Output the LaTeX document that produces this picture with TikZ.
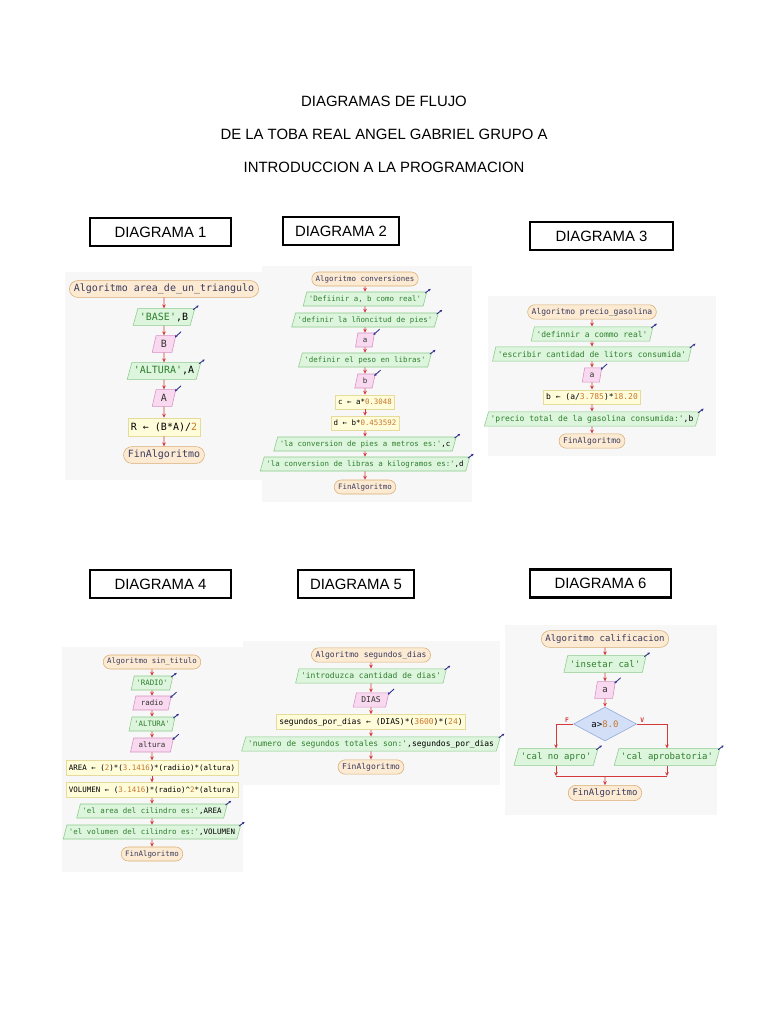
\documentclass[tikz,border=0pt]{standalone}
\usepackage{fontspec}
\usepackage{tikz}
\usetikzlibrary{arrows.meta,shapes.geometric,shapes.misc,positioning}

\newfontfamily\titulo{Liberation Sans}
\newfontfamily\flujo{DejaVu Sans Mono}

\definecolor{termF}{HTML}{FCEBD2}
\definecolor{termB}{HTML}{D9AC74}
\definecolor{outF}{HTML}{DCF5DC}
\definecolor{outB}{HTML}{8CCB8C}
\definecolor{inF}{HTML}{F9D9EF}
\definecolor{inB}{HTML}{D890C4}
\definecolor{asgF}{HTML}{FFFCDA}
\definecolor{asgB}{HTML}{E6DB9A}
\definecolor{decF}{HTML}{D3DFF7}
\definecolor{decB}{HTML}{8FA6D8}
\definecolor{flechaC}{HTML}{D43A3A}
\definecolor{iconC}{HTML}{2B2B8A}
\definecolor{kwC}{HTML}{3A3A60}
\definecolor{strC}{HTML}{2F7F2F}
\definecolor{numC}{HTML}{C8782A}

\newcommand{\cad}[1]{\textcolor{strC}{#1}}
\newcommand{\nro}[1]{\textcolor{numC}{#1}}

\begin{document}
\begin{tikzpicture}[
    x=0.025cm, y=-0.025cm,
    panel/.style={fill=black!3, draw=none},
    caja/.style={draw, line width=1.2pt, minimum height=0.7cm, font=\titulo\fontsize{10.6}{12}\selectfont},
    encab/.style={font=\titulo\fontsize{10.6}{12}\selectfont},
    term/.style={rounded rectangle, draw=termB, fill=termF, text=kwC, inner xsep=2pt, inner ysep=0pt},
    salida/.style={trapezium, trapezium left angle=62, trapezium right angle=118, trapezium stretches body, draw=outB, fill=outF, inner xsep=1.5pt, inner ysep=0pt,
        append after command={([shift={(-1.5pt,-1pt)}]\tikzlastnode.top right corner) edge[icono] ++(4pt,3pt)}},
    entrada/.style={trapezium, trapezium left angle=62, trapezium right angle=118, trapezium stretches body, draw=inB, fill=inF, text=black!80, inner xsep=3.5pt, inner ysep=0pt,
        append after command={([shift={(3.5pt,2.5pt)}]\tikzlastnode.top right corner) edge[icono] ([shift={(-1pt,-1.5pt)}]\tikzlastnode.top right corner)}},
    asig/.style={rectangle, draw=asgB, fill=asgF, inner xsep=2pt, inner ysep=0pt},
    decis/.style={diamond, draw=decB, fill=decF, inner sep=0pt, minimum width=1.58cm, minimum height=0.7cm},
    flab/.style={text=flechaC, font=\flujo\bfseries\fontsize{4.5}{5}\selectfont, inner sep=1pt},
    arr/.style={draw=flechaC, line width=0.5pt, -{Stealth[length=2.8pt,width=2.6pt]}},
    icono/.style={draw=iconC, line width=0.6pt, -{Stealth[length=1.8pt,width=1.8pt]}}
]
\fill[white] (0,0) rectangle (768,1024);
\useasboundingbox (0,0) rectangle (768,1024);

% titulo
\node[encab] (t1) at (384,101) {DIAGRAMAS DE FLUJO};
\node[encab] (t2) at (384,134) {DE LA TOBA REAL ANGEL GABRIEL GRUPO A};
\node[encab] (t3) at (384,167) {INTRODUCCION A LA PROGRAMACION};

\node[caja, minimum width=3.525cm] (c1) at (160.5,232) {DIAGRAMA 1};
\node[caja, minimum width=2.9cm] (c2) at (341,231) {DIAGRAMA 2};
\node[caja, minimum width=3.575cm, line width=1.5pt] (c3) at (601.5,236) {DIAGRAMA 3};
\node[caja, minimum width=3.525cm] (c4) at (160.5,584) {DIAGRAMA 4};
\node[caja, minimum width=2.9cm] (c5) at (356,584) {DIAGRAMA 5};
\node[caja, minimum width=3.525cm, line width=1.5pt] (c6) at (600.5,583.5) {DIAGRAMA 6};

% fondos
\fill[panel] (65,272) rectangle (262,480);
\fill[panel] (262,266) rectangle (472,502);
\fill[panel] (488,296) rectangle (716,456);
\fill[panel] (62,647) rectangle (243,872);
\fill[panel] (243,641) rectangle (500,785);
\fill[panel] (505,625) rectangle (717,815);

% diagrama 1
\begin{scope}[nodes={font=\flujo\fontsize{7.1}{8}\selectfont, minimum height=0.42cm}]
\node[term] (d1a) at (164,289) {Algoritmo area\_de\_un\_triangulo};
\node[salida] (d1b) at (164,317) {\cad{'BASE'},B};
\node[entrada] (d1c) at (164,344) {B};
\node[salida] (d1d) at (164,371) {\cad{'ALTURA'},A};
\node[entrada] (d1e) at (164,398) {A};
\node[asig, minimum height=0.45cm] (d1f) at (164,427) {R ← (B*A)/\nro{2}};
\node[term] (d1g) at (164,455) {FinAlgoritmo};
\end{scope}
\draw[arr] (d1a) -- (d1b);
\draw[arr] (d1b) -- (d1c);
\draw[arr] (d1c) -- (d1d);
\draw[arr] (d1d) -- (d1e);
\draw[arr] (d1e) -- (d1f);
\draw[arr] (d1f) -- (d1g);

% diagrama 2
\begin{scope}[nodes={font=\flujo\fontsize{5.3}{6}\selectfont, minimum height=0.35cm}]
\node[term] (d2a) at (365,279) {Algoritmo conversiones};
\node[salida] (d2b) at (365,299) {\cad{'Defiinir a, b como real'}};
\node[salida] (d2c) at (365,320) {\cad{'definir la lñoncitud de pies'}};
\node[entrada] (d2d) at (365,340) {a};
\node[salida] (d2e) at (365,360) {\cad{'definir el peso en libras'}};
\node[entrada] (d2f) at (365,381) {b};
\node[asig] (d2g) at (365,402) {c ← a*\nro{0.3048}};
\node[asig] (d2h) at (365,423) {d ← b*\nro{0.453592}};
\node[salida] (d2i) at (365,444) {\cad{'la conversion de pies a metros es:'},c};
\node[salida] (d2j) at (365,464) {\cad{'la conversion de libras a kilogramos es:'},d};
\node[term] (d2k) at (365,487) {FinAlgoritmo};
\end{scope}
\draw[arr] (d2a) -- (d2b);
\draw[arr] (d2b) -- (d2c);
\draw[arr] (d2c) -- (d2d);
\draw[arr] (d2d) -- (d2e);
\draw[arr] (d2e) -- (d2f);
\draw[arr] (d2f) -- (d2g);
\draw[arr] (d2g) -- (d2h);
\draw[arr] (d2h) -- (d2i);
\draw[arr] (d2i) -- (d2j);
\draw[arr] (d2j) -- (d2k);

% diagrama 3
\begin{scope}[nodes={font=\flujo\fontsize{5.7}{6.5}\selectfont, minimum height=0.36cm}]
\node[term] (d3a) at (592,312) {Algoritmo precio\_gasolina};
\node[salida] (d3b) at (592,334) {\cad{'definnir a commo real'}};
\node[salida] (d3c) at (592,354) {\cad{'escribir cantidad de litors consumida'}};
\node[entrada] (d3d) at (592,375) {a};
\node[asig] (d3e) at (592,397) {b ← (a/\nro{3.785})*\nro{18.20}};
\node[salida] (d3f) at (592,419) {\cad{'precio total de la gasolina consumida:'},b};
\node[term] (d3g) at (592,441) {FinAlgoritmo};
\end{scope}
\draw[arr] (d3a) -- (d3b);
\draw[arr] (d3b) -- (d3c);
\draw[arr] (d3c) -- (d3d);
\draw[arr] (d3d) -- (d3e);
\draw[arr] (d3e) -- (d3f);
\draw[arr] (d3f) -- (d3g);

% diagrama 4
\begin{scope}[nodes={font=\flujo\fontsize{5.3}{6}\selectfont, minimum height=0.35cm}]
\node[term] (d4a) at (152,662) {Algoritmo sin\_titulo};
\node[salida] (d4b) at (152,683) {\cad{'RADIO'}};
\node[entrada] (d4c) at (152,703) {radio};
\node[salida] (d4d) at (152,724) {\cad{'ALTURA'}};
\node[entrada] (d4e) at (152,745) {altura};
\node[asig, minimum height=0.37cm] (d4f) at (152,768) {AREA ← (\nro{2})*(\nro{3.1416})*(radiio)*(altura)};
\node[asig, minimum height=0.37cm] (d4g) at (152,790) {VOLUMEN ← (\nro{3.1416})*(radio)\textasciicircum\nro{2}*(altura)};
\node[salida] (d4h) at (152,811) {\cad{'el area del cilindro es:'},AREA};
\node[salida] (d4i) at (152,832) {\cad{'el volumen del cilindro es:'},VOLUMEN};
\node[term] (d4j) at (152,854) {FinAlgoritmo};
\end{scope}
\draw[arr] (d4a) -- (d4b);
\draw[arr] (d4b) -- (d4c);
\draw[arr] (d4c) -- (d4d);
\draw[arr] (d4d) -- (d4e);
\draw[arr] (d4e) -- (d4f);
\draw[arr] (d4f) -- (d4g);
\draw[arr] (d4g) -- (d4h);
\draw[arr] (d4h) -- (d4i);
\draw[arr] (d4i) -- (d4j);

% diagrama 5
\begin{scope}[nodes={font=\flujo\fontsize{5.7}{6.5}\selectfont, minimum height=0.36cm}]
\node[term] (d5a) at (371,655) {Algoritmo segundos\_dias};
\node[salida] (d5b) at (371,676) {\cad{'introduzca cantidad de dias'}};
\node[entrada] (d5c) at (371,700) {DIAS};
\node[asig, minimum height=0.38cm] (d5d) at (371,722) {segundos\_por\_dias ← (DIAS)*(\nro{3600})*(\nro{24})};
\node[salida] (d5e) at (371,744) {\cad{'numero de segundos totales son:'},segundos\_por\_dias};
\node[term] (d5f) at (371,767) {FinAlgoritmo};
\end{scope}
\draw[arr] (d5a) -- (d5b);
\draw[arr] (d5b) -- (d5c);
\draw[arr] (d5c) -- (d5d);
\draw[arr] (d5d) -- (d5e);
\draw[arr] (d5e) -- (d5f);

% diagrama 6
\begin{scope}[nodes={font=\flujo\fontsize{6.4}{7}\selectfont, minimum height=0.42cm}]
\node[term] (d6a) at (605,639) {Algoritmo calificacion};
\node[salida] (d6b) at (605,664) {\cad{'insetar cal'}};
\node[entrada] (d6c) at (605,690) {a};
\node[decis] (d6d) at (605,724) {a>\nro{8.0}};
\node[salida] (d6n) at (556,757) {\cad{'cal no apro'}};
\node[salida] (d6s) at (667,757) {\cad{'cal aprobatoria'}};
\node[term, minimum height=0.38cm] (d6f) at (605,793) {FinAlgoritmo};
\end{scope}
\coordinate (d6j) at (605,776);
\draw[arr] (d6a) -- (d6b);
\draw[arr] (d6b) -- (d6c);
\draw[arr] (d6c) -- (d6d);
\draw[arr] (d6d.west) -| node[flab, anchor=south, pos=0.18] {F} (d6n.north);
\draw[arr] (d6d.east) -| node[flab, anchor=south, pos=0.09] {V} (d6s.north);
\draw[arr] (d6n.south) -- (d6n.south |- d6j);
\draw[arr] (d6s.south) -- (d6s.south |- d6j);
\draw[arr, -] (d6n.south |- d6j) -- (d6s.south |- d6j);
\draw[arr] (d6j) -- (d6f);
\end{tikzpicture}
\end{document}
